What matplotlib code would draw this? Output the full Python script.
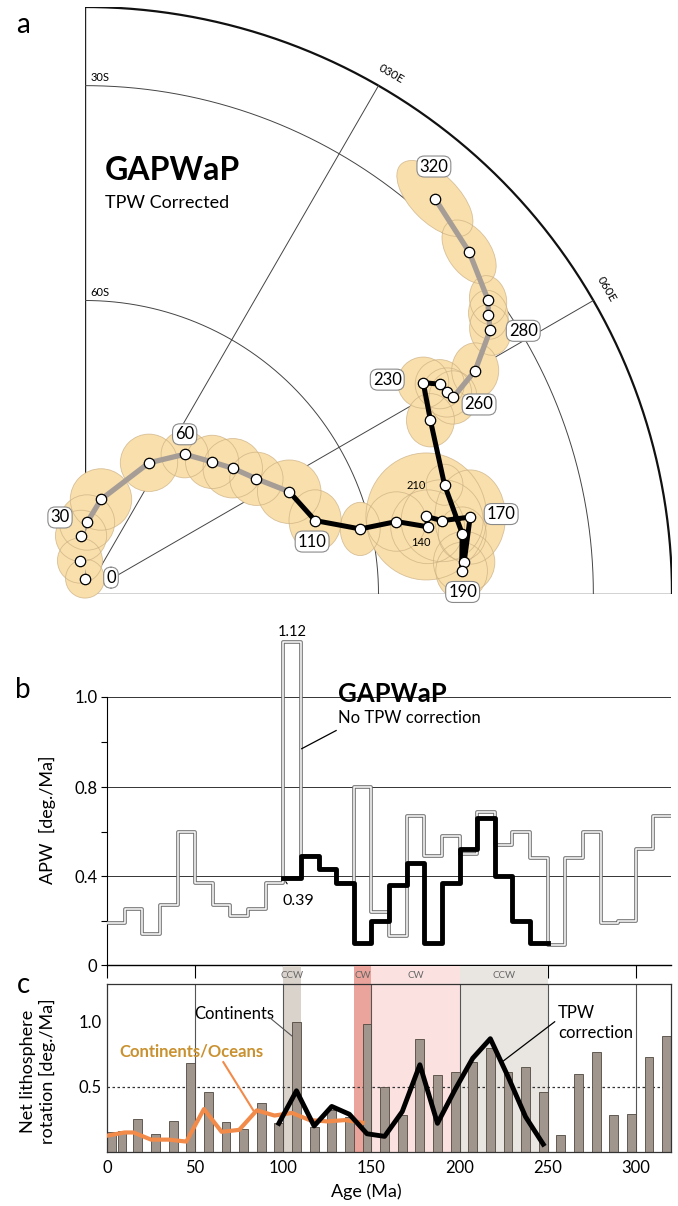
import numpy as np
import matplotlib
matplotlib.use("Agg")
import matplotlib.pyplot as plt
import matplotlib.patheffects as pe
from matplotlib.patches import Ellipse

plt.rcParams['font.family'] = ['Lato', 'DejaVu Sans']

# ---------------- panel a: GAPWaP pole path (south polar orthographic view)
path_age = np.arange(0, 330, 10)
path_lon = [0.0, -8.6, -3.9, 1.6, 9.6, 26.0, 35.5, 43.9, 49.6, 56.1, 63.4,
            72.3, 76.7, 76.9, 78.9, 77.2, 78.4, 78.7, 85.2, 86.5, 80.9,
            73.1, 63.3, 58.0, 59.4, 60.9, 61.9, 60.2, 56.9, 55.3, 53.9,
            48.3, 41.5]
path_lat = [-88.5, -86.7, -84.3, -83.0, -80.6, -75.6, -73.0, -71.8, -70.7,
            -69.4, -67.1, -65.7, -61.2, -57.0, -53.5, -53.4, -51.6, -48.0,
            -49.6, -50.0, -49.4, -50.2, -48.8, -47.2, -45.4, -45.1, -44.7,
            -40.0, -34.5, -33.3, -31.8, -28.8, -25.9]
path_a95 = [1.9, 2.2, 2.5, 2.7, 3.0, 2.8, 2.3, 2.6, 2.9, 2.6, 3.1,
            3.0, 2.6, 2.9, 3.6, 6.2, 4.0, 4.6, 3.0, 2.8, 2.6,
            2.0, 2.6, 2.5, 2.4, 2.4, 2.6, 2.7, 2.5, 2.4, 2.4,
            3.5, 4.7]
path_ratio = [1.0, 1.0, 1.0, 1.0, 1.0, 1.0, 1.0, 1.0, 1.0, 1.0, 1.0,
              0.85, 0.75, 1.0, 1.0, 0.95, 1.0, 0.75, 1.0, 0.9, 0.9,
              0.9, 0.9, 1.0, 1.0, 1.0, 0.9, 0.85, 0.8, 0.8, 0.75,
              0.6, 0.5]
path_angle = [0, 0, 0, 0, 0, 0, 0, 0, 0, 0, 0,
              90, 90, 0, 0, 90, 0, 90, 0, 90, 90,
              90, 90, 0, 0, 0, 90, 90, 100, 100, 100,
              -55, -45]
tpw_first, tpw_last = 100, 250
box_labels = [0, 30, 60, 110, 170, 190, 230, 260, 280, 320]
small_labels = [140, 210]

# ---------------- panel b: APW rate, 10 Myr windows
apw_start = np.arange(0, 320, 10)
apw_raw = [0.19, 0.25, 0.14, 0.27, 0.60, 0.37, 0.27, 0.22, 0.25, 0.37,
           1.12, 0.49, 0.43, 0.37, 0.80, 0.24, 0.13, 0.67, 0.49, 0.58,
           0.50, 0.69, 0.54, 0.60, 0.48, 0.09, 0.48, 0.60, 0.19, 0.20,
           0.52, 0.67]
tpw_start = np.arange(100, 250, 10)
apw_tpw = [0.39, 0.49, 0.43, 0.37, 0.10, 0.20, 0.36, 0.46, 0.10, 0.37,
           0.52, 0.66, 0.40, 0.20, 0.10]

# ---------------- panel c: net lithosphere rotation
bar_age = [2.5, 8.5, 17.5, 27.5, 37.5, 47.5, 57.5, 67.5, 77.5, 87.5, 97.5,
           107.5, 117.5, 127.5, 137.5, 147.5, 157.5, 167.5, 177.5, 187.5,
           197.5, 207.5, 217.5, 227.5, 237.5, 247.5, 257.5, 267.5, 277.5,
           287.5, 297.5, 307.5, 317.5]
bar_rot = [0.15, 0.16, 0.25, 0.14, 0.24, 0.68, 0.46, 0.23, 0.18, 0.375, 0.225,
           1.0, 0.19, 0.32, 0.27, 0.985, 0.50, 0.285, 0.87, 0.59,
           0.615, 0.69, 0.80, 0.615, 0.65, 0.46, 0.13, 0.60, 0.77,
           0.285, 0.29, 0.73, 0.89]
co_age = [0, 10, 15, 25, 35, 45, 55, 65, 75, 85, 95, 105, 115, 125, 135, 145]
co_rot = [0.125, 0.15, 0.15, 0.095, 0.095, 0.08, 0.33, 0.155, 0.17, 0.32,
          0.28, 0.30, 0.245, 0.235, 0.245, 0.225]
tpwc_age = [97.5, 107.5, 117.5, 127.5, 137.5, 147.5, 157.5, 167.5, 177.5,
            187.5, 197.5, 207.5, 217.5, 227.5, 237.5, 247.5]
tpwc_rot = [0.22, 0.47, 0.20, 0.35, 0.29, 0.14, 0.12, 0.31, 0.67, 0.22,
            0.48, 0.72, 0.87, 0.58, 0.27, 0.06]
band_start = [100, 140, 150, 200]
band_end = [110, 150, 200, 250]
band_text = ['CCW', 'CW', 'CW', 'CCW']
band_color = ['#dad3cc', '#eaa49b', '#fbe2e1', '#e9e6e1']

W, H = 678, 1206
fig = plt.figure(figsize=(W / 100, H / 100), dpi=100)


def fbox(x0, y0, x1, y1):
    # pixel box (left, top, right, bottom) -> figure fraction rect
    return [x0 / W, 1 - y1 / H, (x1 - x0) / W, (y1 - y0) / H]


# ======================= panel a
R = 587
axa = fig.add_axes(fbox(85, 594 - R, 85 + R, 594))
axa.set_xlim(0, 1)
axa.set_ylim(0, 1)
axa.axis('off')

t = np.linspace(0, np.pi / 2, 300)
axa.plot([0, 0], [0, 1], color='#222', lw=1.0)
axa.plot([0, 1], [0, 0], color='#222', lw=1.0)
axa.plot(np.cos(t), np.sin(t), color='#111', lw=1.6)
for lat_c in [30, 60]:
    rc = np.cos(np.radians(lat_c))
    axa.plot(rc * np.cos(t), rc * np.sin(t), color='#444', lw=0.7)
    axa.text(0.01, rc + 0.005, '%dS' % lat_c, fontsize=8, ha='left', va='bottom')
for lon_m in [30, 60]:
    a = np.radians(lon_m)
    axa.plot([0, np.sin(a)], [0, np.cos(a)], color='#444', lw=0.7)
    axa.text(np.sin(a) + 0.022, np.cos(a) + 0.02, '0%02dE' % lon_m, fontsize=8.5,
             rotation=-lon_m, ha='center', va='center')

rr = np.cos(np.radians(path_lat))
xs = rr * np.sin(np.radians(path_lon))
ys = rr * np.cos(np.radians(path_lon))
deg = np.pi / 180
for x, y, a95, q, ang in zip(xs, ys, path_a95, path_ratio, path_angle):
    axa.add_patch(Ellipse((x, y), 2 * a95 * deg, 2 * a95 * q * deg, angle=ang,
                          facecolor='#f9dfab', edgecolor='none', zorder=2, clip_on=False))
for x, y, a95, q, ang in zip(xs, ys, path_a95, path_ratio, path_angle):
    axa.add_patch(Ellipse((x, y), 2 * a95 * deg, 2 * a95 * q * deg, angle=ang,
                          facecolor='none', edgecolor='#c9ad80', lw=0.6, alpha=0.7,
                          zorder=3, clip_on=False))

i0 = list(path_age).index(tpw_first)
i1 = list(path_age).index(tpw_last)
axa.plot(xs[:i0 + 1], ys[:i0 + 1], color='#a59d96', lw=3.8, zorder=4, solid_capstyle='round')
axa.plot(xs[i1:], ys[i1:], color='#a59d96', lw=3.8, zorder=4, solid_capstyle='round')
axa.plot(xs[i0:i1 + 1], ys[i0:i1 + 1], color='black', lw=3.6, zorder=5, solid_joinstyle='miter')
axa.plot(xs, ys, 'o', ms=7.5, mfc='white', mec='black', mew=0.9, zorder=6, clip_on=False)

label_off = {0: (26, 1), 30: (-27, 5), 60: (0, 20), 110: (-3, -21), 170: (31, 3),
             190: (1, -21), 230: (-36, 3), 260: (26, -7), 280: (33, -1),
             320: (-1, 32), 140: (-7, -16), 210: (-28, -1)}
for age in box_labels:
    k = list(path_age).index(age)
    axa.annotate(str(age), (xs[k], ys[k]), xytext=label_off[age], textcoords='offset pixels',
                 ha='center', va='center', fontsize=12, zorder=7,
                 bbox=dict(boxstyle='round,pad=0.15,rounding_size=0.45', fc='white',
                           ec='#8a8a8a', lw=0.8))
for age in small_labels:
    k = list(path_age).index(age)
    axa.annotate(str(age), (xs[k], ys[k]), xytext=label_off[age], textcoords='offset pixels',
                 ha='center', va='center', fontsize=8, zorder=7)

fig.text(105 / W, 1 - 171 / H, 'GAPWaP', fontsize=23, fontweight='bold', ha='left', va='center')
fig.text(105 / W, 1 - 203 / H, 'TPW Corrected', fontsize=13, ha='left', va='center')

# ======================= panel b
def fwd(v):
    v = np.asarray(v, dtype=float)
    return np.where(v <= 0.8, v, 0.8 + 2.04 * (v - 0.8))


def inv(u):
    u = np.asarray(u, dtype=float)
    return np.where(u <= 0.8, u, 0.8 + (u - 0.8) / 2.04)


x0p, x1p = 107, 671
axb = fig.add_axes(fbox(x0p, 624, x1p, 965))
axb.set_yscale('function', functions=(fwd, inv))
axb.set_xlim(0, 320)
axb.set_ylim(0, 1.16)
for s in ['top', 'right']:
    axb.spines[s].set_visible(False)
axb.spines['left'].set_bounds(0, 1.0)
axb.spines['left'].set_linewidth(0.8)
axb.spines['bottom'].set_linewidth(1.0)
axb.set_yticks([0, 0.4, 0.8, 1.0])
axb.set_yticklabels(['0', '0.4', '0.8', '1.0'])
axb.set_yticks([0.2, 0.6, 0.9], minor=True)
axb.yaxis.set_minor_formatter(plt.NullFormatter())
axb.tick_params(axis='y', which='both', length=4, width=0.8, labelsize=12, pad=3)
axb.set_xticks(np.arange(0, 301, 50))
axb.tick_params(axis='x', length=9, width=0.8, labelbottom=False, direction='out')
for g in [0.4, 0.8, 1.0]:
    axb.axhline(g, color='#333', lw=0.7, zorder=1)

xr = np.r_[apw_start, 320]
yr = np.r_[apw_raw, apw_raw[-1]]
axb.plot(xr, yr, drawstyle='steps-post', color='white', lw=1.1, zorder=3,
         path_effects=[pe.Stroke(linewidth=2.6, foreground='#6d6d6d'), pe.Normal()])
xt = np.r_[tpw_start, 250]
yt = np.r_[apw_tpw, apw_tpw[-1]]
axb.plot(xt, yt, drawstyle='steps-post', color='black', lw=3.5, zorder=4)

axb.annotate('1.12', (105, 1.12), xytext=(0, 2), textcoords='offset points',
             ha='center', va='bottom', fontsize=10.5)
axb.annotate('0.39', (101, 0.38), xytext=(108.5, 0.29), ha='center', va='center',
             fontsize=11.5, arrowprops=dict(arrowstyle='-', lw=0.8, shrinkA=6, shrinkB=1))
axb.plot([110.5, 130], [0.885, 0.925], color='black', lw=0.9, zorder=5)
axb.text(131, 1.005, 'GAPWaP', fontsize=18.5, fontweight='bold', ha='left', va='center')
axb.text(131, 0.952, 'No TPW correction', fontsize=12, ha='left', va='center')
fig.text(47 / W, 1 - 820 / H, 'APW  [deg./Ma]', rotation=90, fontsize=13,
         ha='center', va='center')

# ======================= panel c
axc = fig.add_axes(fbox(x0p, 984, x1p, 1152))
axc.set_xlim(0, 320)
axc.set_ylim(0, 1.29)
for s in axc.spines.values():
    s.set_linewidth(0.9)
    s.set_color('#333')
ext = (1152 - 966) / (1152 - 984)
for b0, b1, txt, col in zip(band_start, band_end, band_text, band_color):
    axc.axvspan(b0, b1, ymin=0, ymax=ext, color=col, lw=0, zorder=0, clip_on=False)
    axc.text((b0 + b1) / 2, 1 + (ext - 1) / 2, txt, transform=axc.get_xaxis_transform(),
             ha='center', va='center', fontsize=7, color='#666')
for g in range(50, 301, 50):
    axc.axvline(g, color='#555', lw=0.8, zorder=1)
axc.axhline(0.5, color='#333', lw=0.9, ls=(0, (2, 2)), zorder=1)

axc.bar(bar_age, bar_rot, width=5, color='#a0968e', edgecolor='#50483f', lw=0.6, zorder=2)
axc.plot(co_age, co_rot, color='#f28a4a', lw=3, zorder=3, solid_joinstyle='round')
axc.plot(tpwc_age, tpwc_rot, color='black', lw=3.5, zorder=4, solid_joinstyle='round')

axc.set_xticks(np.arange(0, 301, 50))
axc.set_yticks([0.5, 1.0])
axc.set_yticklabels(['0.5', '1.0'])
axc.tick_params(axis='both', length=0, labelsize=12, pad=6)
axc.tick_params(axis='y', pad=4)

axc.text(72, 1.06, 'Continents', fontsize=12, ha='center', va='center')
axc.plot([92, 105], [1.035, 0.89], color='#555', lw=0.8, zorder=5)
axc.text(48, 0.77, 'Continents/Oceans', fontsize=12, color='#c9912f',
         fontweight='bold', ha='center', va='center')
axc.plot([66, 83], [0.69, 0.32], color='#f28a4a', lw=1.5, zorder=5)
axc.text(256, 0.99, 'TPW\ncorrection', fontsize=12, ha='left', va='center', linespacing=1.3)
axc.plot([254, 224], [1.0, 0.69], color='black', lw=0.9, zorder=5)

fig.text(366 / W, 1 - 1192 / H, 'Age (Ma)', fontsize=13, ha='center', va='center')
fig.text(38 / W, 1 - 1071 / H, 'Net lithosphere\nrotation [deg./Ma]', rotation=90,
         fontsize=13, ha='center', va='center', linespacing=1.15)

# panel letters
fig.text(23 / W, 1 - 25 / H, 'a', fontsize=20, ha='center', va='center')
fig.text(23 / W, 1 - 690 / H, 'b', fontsize=20, ha='center', va='center')
fig.text(23 / W, 1 - 985 / H, 'c', fontsize=20, ha='center', va='center')

fig.savefig('out.png', dpi=100)
